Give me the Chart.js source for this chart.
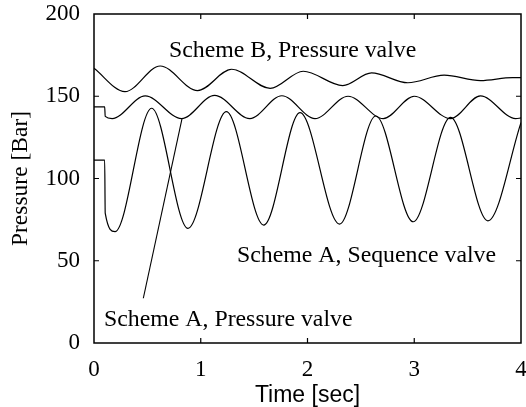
<!DOCTYPE html>
<html>
<head>
<meta charset="utf-8">
<script src="https://cdn.jsdelivr.net/npm/chart.js@4.4.1/dist/chart.umd.min.js"></script>
<style>
  body { margin: 0; background: #fff; }
  canvas { display: block; }
</style>
</head>
<body>
<canvas id="canvas" width="526" height="407"></canvas>
<script>
// values (time in sec, pressure in bar), peaks and troughs
var seqTime  = [0, 0.10, 0.105, 0.197, 0.54, 0.88, 1.24, 1.59, 1.93, 2.30, 2.64, 2.99, 3.34, 3.69, 4.0];
var seqValue = [111.2, 111.2, 79, 67.7, 142.7, 69.7, 140.6, 71.7, 140, 72.3, 138, 73.7, 137.2, 74.3, 134];

var presATime  = [0, 0.10, 0.105, 0.17, 0.48, 0.82, 1.13, 1.46, 1.76, 2.07, 2.38, 2.71, 3.00, 3.34, 3.62, 3.95, 4.0];
var presAValue = [143.6, 143.6, 137.8, 136.4, 150.2, 136.4, 150.5, 136.4, 150.3, 136.4, 150, 136.4, 150, 136.4, 150.2, 136.4, 136.8];

var presBTime  = [0, 0.29, 0.62, 0.97, 1.29, 1.65, 1.96, 2.33, 2.60, 2.94, 3.28, 3.62, 3.92, 4.0];
var presBValue = [167, 152.8, 168.4, 153.4, 166.4, 154.8, 165.2, 156.5, 164.2, 158.2, 162.8, 159.5, 161.3, 161.3];

// leader line from the "Scheme A, Pressure valve" label to its curve
var leaderTime  = [0.462, 0.824];
var leaderValue = [27.2, 136.3];

var xTickValues = [0, 1, 2, 3, 4];
var yTickValues = [0, 50, 100, 150, 200];

function pairs(xs, ys) {
    var out = [];
    for (var i = 0; i < xs.length; i++) out.push({x: xs[i], y: ys[i]});
    return out;
}

function curve(data) {
    return {
        data: data,
        borderColor: '#000',
        borderWidth: 1.2,
        pointRadius: 0,
        fill: false,
        cubicInterpolationMode: 'monotone'
    };
}

var SERIF = '"Liberation Serif", "Times New Roman", serif';

var frame = {
    id: 'frame',
    afterDatasetsDraw: function(chart) {
        var ctx = chart.ctx, a = chart.chartArea;
        var x = chart.scales.x, y = chart.scales.y;
        ctx.save();
        ctx.strokeStyle = '#000';
        ctx.lineWidth = 1.5;
        ctx.strokeRect(a.left, a.top, a.right - a.left, a.bottom - a.top);
        ctx.beginPath();
        xTickValues.slice(1, -1).forEach(function(v) {
            var px = x.getPixelForValue(v);
            ctx.moveTo(px, a.bottom); ctx.lineTo(px, a.bottom - 5);
            ctx.moveTo(px, a.top); ctx.lineTo(px, a.top + 5);
        });
        yTickValues.slice(1, -1).forEach(function(v) {
            var py = y.getPixelForValue(v);
            ctx.moveTo(a.left, py); ctx.lineTo(a.left + 5, py);
            ctx.moveTo(a.right, py); ctx.lineTo(a.right - 5, py);
        });
        ctx.lineWidth = 1.2;
        ctx.stroke();

        // curve labels
        ctx.fillStyle = '#000';
        ctx.font = '23.8px ' + SERIF;
        ctx.textAlign = 'left';
        ctx.textBaseline = 'alphabetic';
        ctx.fillText('Scheme B, Pressure valve', x.getPixelForValue(0.703), y.getPixelForValue(174));
        ctx.fillText('Scheme A, Sequence valve', x.getPixelForValue(1.34), y.getPixelForValue(49.4));
        ctx.fillText('Scheme A, Pressure valve', x.getPixelForValue(0.094), y.getPixelForValue(10.3));
        ctx.restore();
    }
};

var config = {
    type: 'line',
    data: {
        datasets: [
            curve(pairs(seqTime, seqValue)),
            curve(pairs(presATime, presAValue)),
            curve(pairs(presBTime, presBValue)),
            {
                data: pairs(leaderTime, leaderValue),
                borderColor: '#000',
                borderWidth: 1.1,
                pointRadius: 0,
                tension: 0
            }
        ]
    },
    options: {
        responsive: false,
        animation: false,
        layout: { padding: { top: 14, right: 5, left: 0, bottom: 0 } },
        plugins: {
            legend: { display: false },
            tooltip: { enabled: false }
        },
        scales: {
            x: {
                type: 'linear',
                min: 0,
                max: 4,
                afterBuildTicks: function(scale) {
                    scale.ticks = xTickValues.map(function(v) { return {value: v}; });
                },
                afterFit: function(scale) {
                    scale.height = 64;
                    scale.paddingLeft = 0;
                    scale.paddingRight = 0;
                },
                grid: { display: false },
                border: { display: false },
                ticks: {
                    color: '#000',
                    padding: 5,
                    maxRotation: 0,
                    autoSkip: false,
                    font: { family: SERIF, size: 23 }
                },
                title: {
                    display: true,
                    text: 'Time [sec]',
                    color: '#000',
                    padding: { top: 0, bottom: 0 },
                    font: { family: '"Liberation Sans", Arial, sans-serif', size: 23, lineHeight: 1 }
                }
            },
            y: {
                type: 'linear',
                min: 0,
                max: 200,
                afterBuildTicks: function(scale) {
                    scale.ticks = yTickValues.map(function(v) { return {value: v}; });
                },
                afterFit: function(scale) {
                    scale.width = 94;
                    scale.paddingTop = 0;
                    scale.paddingBottom = 0;
                },
                grid: { display: false },
                border: { display: false },
                ticks: {
                    color: '#000',
                    padding: 6,
                    autoSkip: false,
                    font: { family: SERIF, size: 23 }
                },
                title: {
                    display: true,
                    text: 'Pressure [Bar]',
                    color: '#000',
                    padding: { top: 9, bottom: 0 },
                    font: { family: SERIF, size: 23.5, lineHeight: 1 }
                }
            }
        }
    },
    plugins: [frame]
};

window.addEventListener('load', function() {
    var ctx = document.getElementById('canvas').getContext('2d');
    window.PressureChart = new Chart(ctx, config);
});
</script>
</body>
</html>
